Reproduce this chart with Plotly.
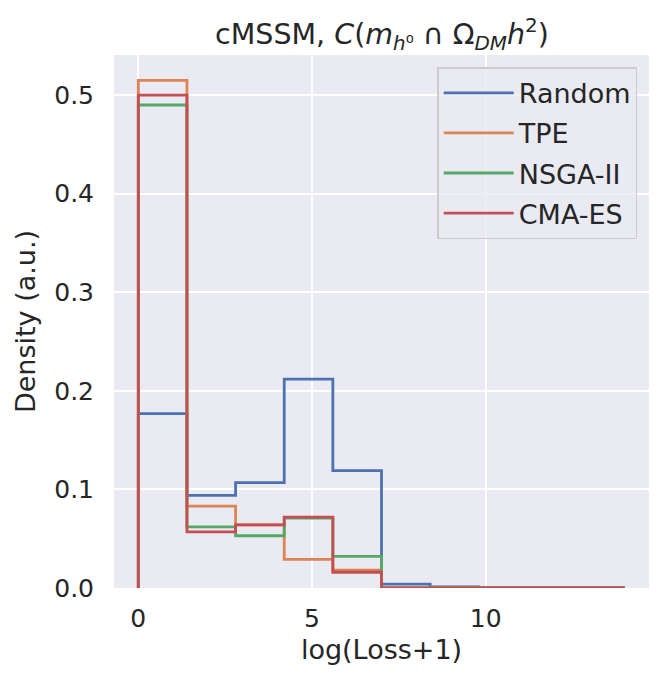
import plotly.graph_objects as go

# ---- data ----
bin_edges = [0.0, 1.4, 2.8, 4.2, 5.6, 7.0, 8.4, 9.8, 11.2, 12.6, 14.0]
series_names = ["Random", "TPE", "NSGA-II", "CMA-ES"]
random_density = [0.177, 0.094, 0.107, 0.212, 0.119, 0.004, 0.001, 0.0003, 0.0003, 0.0003]
tpe_density = [0.515, 0.083, 0.064, 0.029, 0.018, 0.0, 0.0, 0.0, 0.0, 0.0]
nsga_density = [0.490, 0.062, 0.053, 0.071, 0.032, 0.0, 0.0, 0.0, 0.0, 0.0]
cma_density = [0.500, 0.057, 0.064, 0.072, 0.016, 0.0, 0.0, 0.0, 0.0, 0.0]
x_ticks = [0, 5, 10]
y_ticks = [0.0, 0.1, 0.2, 0.3, 0.4, 0.5]

colors = ["#4C72B0", "#DD8452", "#55A868", "#C44E52"]
all_series = [random_density, tpe_density, nsga_density, cma_density]

fig = go.Figure()
for i, (name, dens) in enumerate(zip(series_names, all_series)):
    xs = [bin_edges[0]] + list(bin_edges)
    ys = [0.0] + list(dens) + [dens[-1]]
    fig.add_trace(go.Scatter(
        x=xs, y=ys, mode="lines", name=name,
        line=dict(color=colors[i], width=2.8, shape="hv"),
        legendgroup=name,
    ))

xmin, xmax = bin_edges[0], bin_edges[-1]
pad = 0.05 * (xmax - xmin)
ymax = max(max(s) for s in all_series) * 1.05

W, H = 665, 683
font_color = "#262626"
fig.update_layout(
    width=W, height=H,
    margin=dict(l=106, r=24, t=47, b=103, autoexpand=False),
    paper_bgcolor="white",
    plot_bgcolor="#EAEAF2",
    font=dict(family="DejaVu Sans", color=font_color, size=26),
    title=dict(
        text="cMSSM, <i>C</i>(<i>m</i><sub><i>h</i>⁰</sub> ∩ Ω<sub><i>DM</i></sub><i>h</i><sup>2</sup>)",
        x=374 / W, xanchor="center",
        y=1 - 26 / H, yanchor="middle",
        font=dict(size=28.5, color=font_color),
    ),
    xaxis=dict(
        range=[xmin - pad, xmax + pad],
        tickvals=x_ticks, ticktext=[str(t) for t in x_ticks],
        showgrid=True, gridcolor="white", gridwidth=2,
        zeroline=False, showline=False,
        ticks="outside", ticklen=8, tickcolor="rgba(0,0,0,0)",
        tickfont=dict(size=25),
        title=dict(text="log(Loss+1)", font=dict(size=27), standoff=8),
        automargin=False,
    ),
    yaxis=dict(
        range=[0, ymax],
        tickvals=y_ticks, ticktext=[f"{t:.1f}" for t in y_ticks],
        showgrid=True, gridcolor="white", gridwidth=2,
        zeroline=False, showline=False,
        ticks="outside", ticklen=14, tickcolor="rgba(0,0,0,0)",
        tickfont=dict(size=25),
        title=dict(text="Density (a.u.)", font=dict(size=27), standoff=10),
        automargin=False,
    ),
    legend=dict(
        x=0.978, xanchor="right", y=0.977, yanchor="top",
        bgcolor="rgba(234,234,242,0.8)", bordercolor="#CCCCCC", borderwidth=1.5,
        font=dict(size=27, color=font_color),
        tracegroupgap=2,
        itemwidth=70,
    ),
    showlegend=True,
)

fig.write_html("out.html")
